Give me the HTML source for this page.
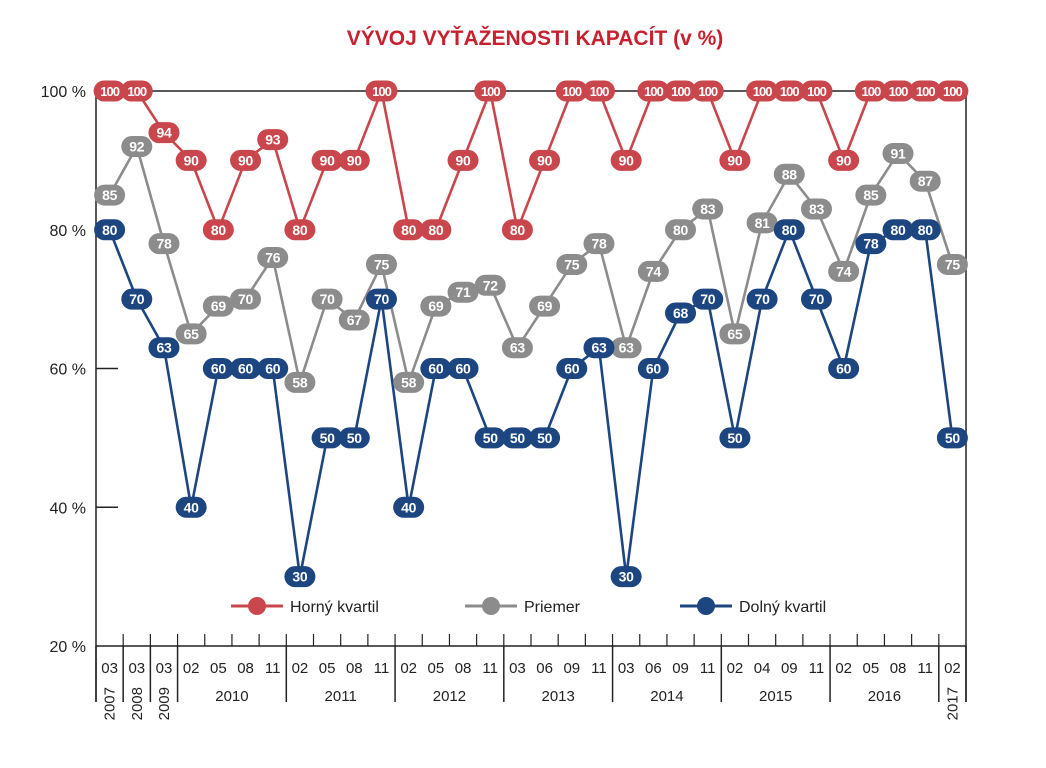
<!DOCTYPE html>
<html><head><meta charset="utf-8">
<style>
html,body{margin:0;padding:0;background:#fff;}
svg{display:block;font-family:"Liberation Sans",sans-serif;}
</style></head>
<body>
<svg id="c" width="1046" height="768" xmlns="http://www.w3.org/2000/svg">
<text x="535" y="45" text-anchor="middle" font-size="21" font-weight="bold" fill="#c8202f">VÝVOJ VYŤAŽENOSTI KAPACÍT (v %)</text>
</svg>
<script>
var s=document.getElementById('c'),NS='http://www.w3.org/2000/svg';
function el(t,a,txt){var e=document.createElementNS(NS,t);for(var k in a)e.setAttribute(k,a[k]);if(txt!=null)e.textContent=txt;s.appendChild(e);return e;}
var X0=96,X1=966,N=32,W=(X1-X0)/N;
function cx(i){return X0+W*(i+0.5);}
function cy(v){return 91+(100-v)*555/80;}
el('line',{x1:X0,y1:91,x2:X1,y2:91,stroke:'#222','stroke-width':1.5});
el('line',{x1:X0,y1:91,x2:X0,y2:702,stroke:'#222','stroke-width':1.5});
el('line',{x1:X1,y1:91,x2:X1,y2:702,stroke:'#222','stroke-width':1.5});
el('line',{x1:X0,y1:646,x2:X1,y2:646,stroke:'#222','stroke-width':1.5});
[80,60,40].forEach(function(v){el('line',{x1:X0,y1:cy(v),x2:X0+22,y2:cy(v),stroke:'#222','stroke-width':1.5});});
[100,80,60,40,20].forEach(function(v){el('text',{x:86,y:cy(v)+6,'text-anchor':'end','font-size':16,fill:'#222'},v+' %');});
for(var i=1;i<N;i++){var x=X0+W*i;el('line',{x1:x,y1:634,x2:x,y2:646,stroke:'#222','stroke-width':1.2});}
var months=['03','03','03','02','05','08','11','02','05','08','11','02','05','08','11','03','06','09','11','03','06','09','11','02','04','09','11','02','05','08','11','02'];
months.forEach(function(m,i){el('text',{x:cx(i),y:673,'text-anchor':'middle','font-size':15,fill:'#222'},m);});
var b=[0,1,2,3,7,11,15,19,23,27,31,32];
b.forEach(function(k){var x=X0+W*k;el('line',{x1:x,y1:646,x2:x,y2:702,stroke:'#222','stroke-width':1.5});});
var yrs=['2007','2008','2009','2010','2011','2012','2013','2014','2015','2016','2017'];
yrs.forEach(function(y,j){var a=b[j],c=b[j+1];var x=X0+W*(a+c)/2;
 if(c-a==1){el('text',{x:0,y:0,'text-anchor':'end','font-size':15,fill:'#222',transform:'translate('+(x+5)+',687) rotate(-90)'},y);}
 else el('text',{x:x,y:701,'text-anchor':'middle','font-size':15,fill:'#222'},y);});
var R=[100,100,94,90,80,90,93,80,90,90,100,80,80,90,100,80,90,100,100,90,100,100,100,90,100,100,100,90,100,100,100,100];
var G=[85,92,78,65,69,70,76,58,70,67,75,58,69,71,72,63,69,75,78,63,74,80,83,65,81,88,83,74,85,91,87,75];
var B=[80,70,63,40,60,60,60,30,50,50,70,40,60,60,50,50,50,60,63,30,60,68,70,50,70,80,70,60,78,80,80,50];
var series=[[G,'#8c8c8c'],[R,'#c9464c'],[B,'#1d4580']];
series.forEach(function(sr){var d=sr[0].map(function(v,i){return (i?'L':'M')+cx(i).toFixed(1)+' '+cy(v).toFixed(1);}).join(' ');
 el('path',{d:d,fill:'none',stroke:sr[1],'stroke-width':2.6});});
series.forEach(function(sr){sr[0].forEach(function(v,i){var w=v==100?32:31;
 el('rect',{x:cx(i)-w/2,y:cy(v)-10.5,width:w,height:21,rx:10.5,fill:sr[1]});
 el('text',{x:cx(i),y:cy(v)+5,'text-anchor':'middle','font-size':v==100?13:14,'font-weight':'bold',fill:'#fff','letter-spacing':v==100?-1:-0.3},v);});});
[[231,'#c9464c','Horný kvartil'],[465,'#8c8c8c','Priemer'],[680,'#1d4580','Dolný kvartil']].forEach(function(l){
 el('line',{x1:l[0],y1:606,x2:l[0]+52,y2:606,stroke:l[1],'stroke-width':3});
 el('circle',{cx:l[0]+26,cy:606,r:9,fill:l[1]});
 el('text',{x:l[0]+59,y:612,'font-size':16,fill:'#222'},l[2]);});
</script>
</body></html>
